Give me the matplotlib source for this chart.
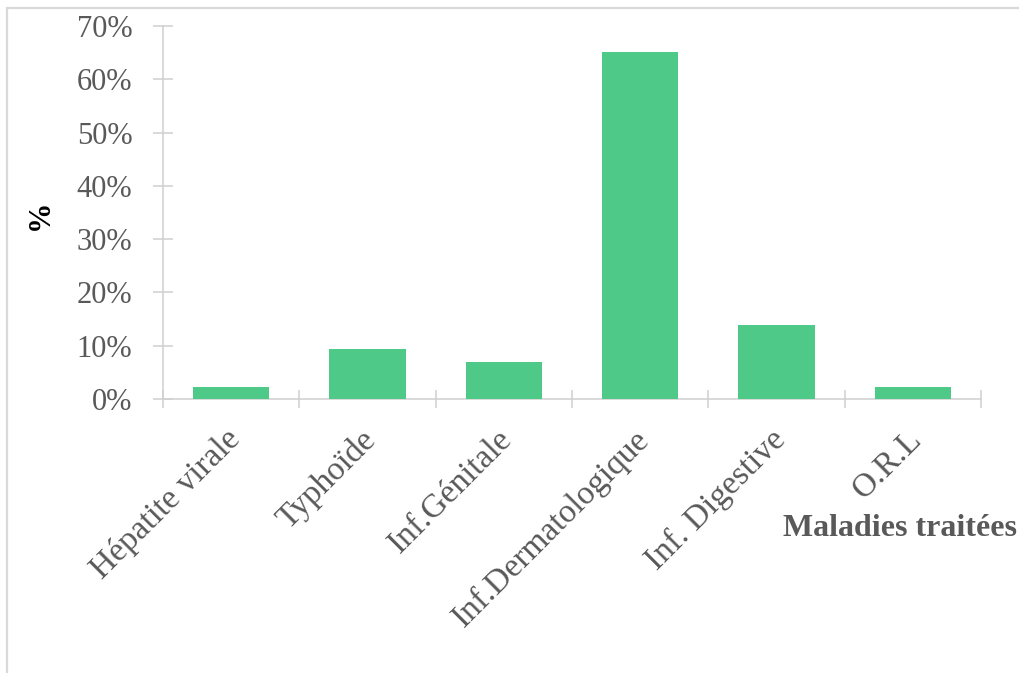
import numpy as np
import matplotlib.pyplot as plt
from matplotlib.patches import Rectangle
from matplotlib.ticker import PercentFormatter
from matplotlib.transforms import ScaledTranslation

# malades traités (n = 43)
categories = ["Hépatite virale", "Typhoïde", "Inf.Génitale",
              "Inf.Dermatologique", "Inf. Digestive", "O.R.L"]
percent = [2.33, 9.30, 6.98, 65.12, 13.95, 2.33]
yticks = [0, 10, 20, 30, 40, 50, 60, 70]

plt.rcParams['font.family'] = ['Liberation Serif', 'DejaVu Serif']

W, H = 1019, 673
fig = plt.figure(figsize=(W / 100, H / 100), dpi=100)
ax = fig.add_axes([163 / W, 1 - 399 / H, (981 - 163) / W, (399 - 26) / H])

grey = '#595959'
line = '#d0d0d0'
x = np.arange(len(categories))
ax.bar(x, percent, width=0.56, color='#4ec987', edgecolor='none', zorder=3)

ax.set_xlim(-0.5, len(categories) - 0.5)
ax.set_ylim(0, 70)
ax.set_yticks(yticks)
ax.yaxis.set_major_formatter(PercentFormatter(decimals=0))

ax.set_xticks(x)
ax.set_xticklabels(categories, rotation=45, ha='right', rotation_mode='anchor')
ax.set_xticks(np.arange(len(categories) + 1) - 0.5, minor=True)
ax.tick_params(axis='x', which='major', length=0, pad=18, labelsize=24, labelcolor=grey)
ax.tick_params(axis='x', which='minor', direction='inout', length=13, width=1.1, color=line)
ax.tick_params(axis='y', direction='inout', length=14, width=1.1, color=line,
               pad=15, labelsize=22, labelcolor=grey)

# léger décalage des étiquettes inclinées vers la gauche
shift = ScaledTranslation(-7 / 100, 0, fig.dpi_scale_trans)
for lab in ax.get_xticklabels():
    lab.set_transform(lab.get_transform() + shift)

for s in ['top', 'right']:
    ax.spines[s].set_visible(False)
for s in ['left', 'bottom']:
    ax.spines[s].set_color(line)
    ax.spines[s].set_linewidth(1.1)

fig.text(40 / W, 1 - 215 / H, '%', rotation=90, fontsize=22, fontweight='bold',
         color='black', ha='center', va='center')
fig.text(900 / W, 1 - 528 / H, 'Maladies traitées', fontsize=23, fontweight='bold',
         color=grey, ha='center', va='center')

# cadre du graphique
fig.patches.append(Rectangle((7 / W, -0.1), 1.1, 1 - 8 / H + 0.1, transform=fig.transFigure,
                             fill=False, edgecolor='#d9d9d9', linewidth=1.6))

fig.savefig('out.png', dpi=100)
